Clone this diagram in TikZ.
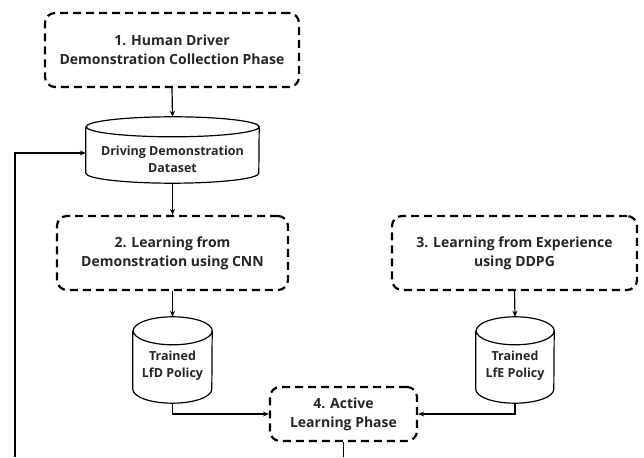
\documentclass[tikz,border=0pt]{standalone}
\usepackage{fontspec}
\setmainfont{Open Sans}
\usetikzlibrary{arrows.meta,calc}
\tikzset{
  phase/.style={draw, dash pattern=on 8pt off 5pt, line width=2.2pt, rounded corners=10pt,
    align=center, font=\fontsize{14}{19}\selectfont\bfseries, text=black!85, inner sep=0pt},
  cylbox/.style={inner sep=0pt},
  cyltext/.style={align=center, font=\fontsize{12.5}{17}\selectfont\bfseries, text=black!85, inner sep=0pt},
  conn/.style={line width=1.2pt, -{Stealth[length=6pt,width=5pt]}},
  plainconn/.style={line width=1.2pt},
  cylline/.style={line width=1.2pt}
}
% #1 node name, #2 half width, #3 ry
\newcommand{\mycyl}[3]{%
  \draw[cylline] ($(#1.north west)+(0,-#3)$) -- ($(#1.south west)+(0,#3)$)
    arc[start angle=180,end angle=360,x radius=#2,y radius=#3]
    -- ($(#1.north east)+(0,-#3)$)
    arc[start angle=0,end angle=360,x radius=#2,y radius=#3];
}
\begin{document}
\begin{tikzpicture}[x=1pt,y=1pt]
\useasboundingbox (0,0) rectangle (644,457);
\node[phase, minimum width=254, minimum height=74] (b1) at (172,407) {1. Human Driver\\Demonstration Collection Phase};
\node[cylbox, minimum width=173, minimum height=66] (c1) at (172.5,307) {};
\mycyl{c1}{86.5}{10}
\node[cyltext] (c1t) at ($(c1.center)+(0,-9)$) {Driving Demonstration\\Dataset};
\node[phase, minimum width=231, minimum height=74] (b2) at (172.5,204) {2. Learning from\\Demonstration using CNN};
\node[phase, minimum width=245, minimum height=74] (b3) at (514.5,204) {3. Learning from Experience\\using DDPG};
\node[cylbox, minimum width=79, minimum height=86] (c2) at (172.5,97) {};
\mycyl{c2}{39.5}{14}
\node[cyltext] (c2t) at ($(c2.center)+(0,-6)$) {Trained\\LfD Policy};
\node[cylbox, minimum width=78, minimum height=86] (c3) at (515,97) {};
\mycyl{c3}{39}{14}
\node[cyltext] (c3t) at ($(c3.center)+(0,-6)$) {Trained\\LfE Policy};
\node[phase, minimum width=147, minimum height=54] (b4) at (343.5,43) {4. Active\\Learning Phase};
\coordinate (e1) at (343.5,0);
\coordinate (e2) at (15,0);
\coordinate (c1in) at ($(c1.west)+(0,-3)$);
\draw[conn] (b1.south) -- (c1.north);
\draw[conn] (c1.south) -- (b2.north);
\draw[conn] (b2.south) -- (c2.north);
\draw[conn] (b3.south) -- (c3.north);
\draw[conn] (c2.south) |- (b4.west);
\draw[conn] (c3.south) |- (b4.east);
\draw[plainconn] (b4.south) -- (e1);
\draw[conn] (e2) |- (c1in);
\end{tikzpicture}
\end{document}
